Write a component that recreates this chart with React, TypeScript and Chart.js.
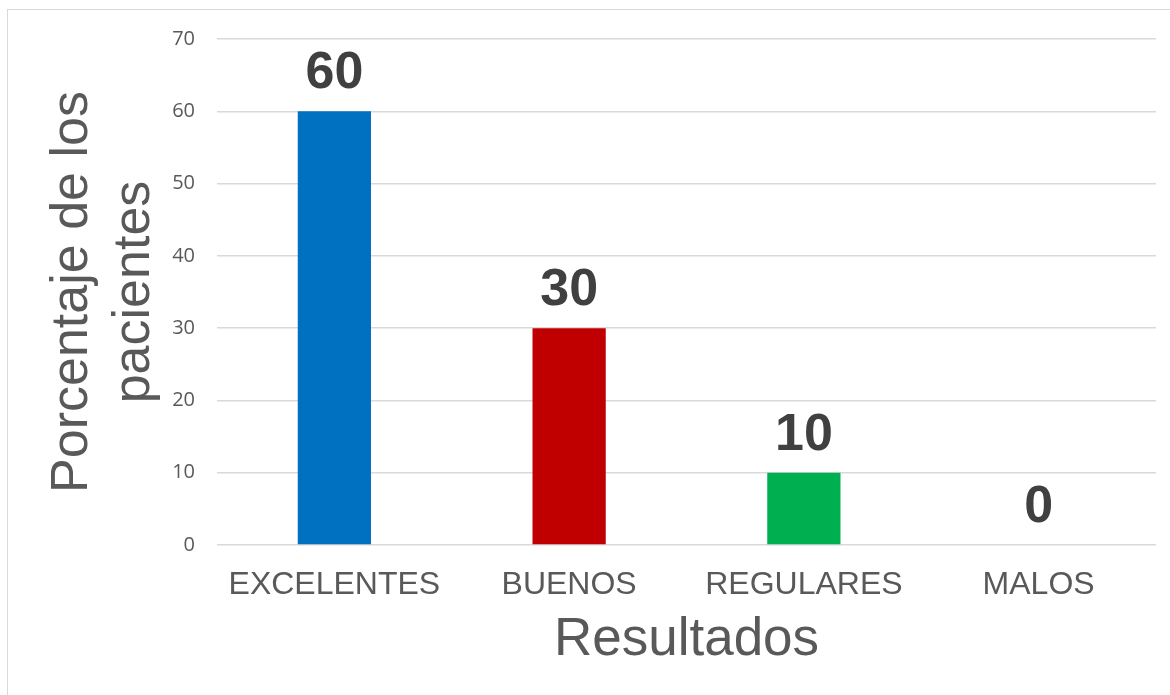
import React, { useEffect, useRef } from "react";
import { Chart, registerables } from "chart.js";

Chart.register(...registerables);

const categories = ["EXCELENTES", "BUENOS", "REGULARES", "MALOS"];
const values = [60, 30, 10, 0];
const barColors = ["#0070C0", "#C00000", "#00B050", "#7F7F7F"];
const yTicks = [0, 10, 20, 30, 40, 50, 60, 70];
const yTitle = ["Porcentaje de los", "pacientes"];
const xTitle = "Resultados";

const SANS = "'Liberation Sans', Arial, sans-serif";

export default function App() {
  const ref = useRef<HTMLCanvasElement | null>(null);

  useEffect(() => {
    if (!ref.current) return;
    const H = 695;
    const plotLeft = 217;
    const plotBottom = 545;

    const valueLabels = {
      id: "valueLabels",
      afterDatasetsDraw(chart: any) {
        const ctx = chart.ctx;
        const meta = chart.getDatasetMeta(0);
        ctx.save();
        ctx.font = `bold 52px ${SANS}`;
        ctx.fillStyle = "#404040";
        ctx.textAlign = "center";
        ctx.textBaseline = "alphabetic";
        meta.data.forEach((el: any, i: number) => {
          ctx.fillText(String(values[i]), el.x, el.y - 23);
        });
        ctx.restore();
      },
    };

    const chart = new Chart(ref.current, {
      type: "bar",
      data: {
        labels: categories,
        datasets: [
          {
            data: values,
            backgroundColor: barColors,
            barPercentage: 0.312,
            categoryPercentage: 1,
          },
        ],
      },
      options: {
        animation: false,
        responsive: false,
        maintainAspectRatio: false,
        layout: { padding: { left: 0, top: 39, right: 14, bottom: 0 } },
        plugins: {
          legend: { display: false },
          tooltip: { enabled: false },
        },
        scales: {
          x: {
            grid: { display: false, drawTicks: false },
            border: { display: false },
            ticks: {
              color: "#595959",
              font: { family: SANS, size: 32 },
              padding: 21,
              maxRotation: 0,
              autoSkip: false,
            },
            title: {
              display: true,
              text: xTitle,
              color: "#595959",
              font: { family: SANS, size: 53 },
              padding: { top: 0, bottom: 23 },
            },
            afterFit: (s: any) => {
              s.height = H - plotBottom;
            },
          },
          y: {
            min: 0,
            max: 70,
            afterBuildTicks: (s: any) => {
              s.ticks = yTicks.map((v) => ({ value: v }));
            },
            ticks: {
              color: "#595959",
              font: { family: "'Open Sans', sans-serif", size: 20 },
              padding: 22,
            },
            grid: { color: "#d9d9d9", lineWidth: 1.5, drawTicks: false },
            border: { display: false },
            title: {
              display: true,
              text: yTitle,
              color: "#595959",
              font: { family: SANS, size: 52 },
              padding: { top: 41, bottom: 0 },
            },
            afterFit: (s: any) => {
              s.width = plotLeft;
            },
          },
        },
      },
      plugins: [valueLabels],
    } as any);

    return () => chart.destroy();
  }, []);

  return (
    <div
      style={{
        position: "absolute",
        left: 0,
        top: 0,
        width: 1170,
        height: 695,
        overflow: "hidden",
        background: "#fff",
      }}
    >
      <div
        style={{
          position: "absolute",
          left: 7,
          top: 9,
          width: 1200,
          height: 800,
          border: "1px solid #d9d9d9",
        }}
      />
      <canvas
        ref={ref}
        width={1170}
        height={695}
        style={{ position: "absolute", left: 0, top: 0, width: 1170, height: 695 }}
      />
    </div>
  );
}
